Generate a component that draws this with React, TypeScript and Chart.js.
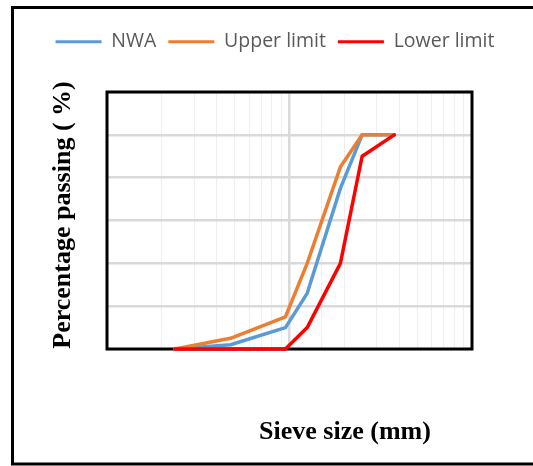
import React, { useEffect, useRef } from "react";
import { Chart, registerables } from "chart.js";

Chart.register(...registerables);

// Sieve sizes (mm) and percentage passing values
const sieveSizes = [2.36, 4.75, 9.5, 12.5, 19, 25, 37.5];
const nwaPassing = [0, 2, 10, 26, 75, 100, 100];
const upperLimit = [0, 5, 15, 40, 85, 100, 100];
const lowerLimit = [0, 0, 0, 10, 40, 90, 100];
const seriesLabels = ["NWA", "Upper limit", "Lower limit"];
const seriesColors = ["#5B9BD5", "#ED7D31", "#FF0000"];
const yTitle = "Percentage passing ( %)";
const xTitle = "Sieve size (mm)";
const xMin = 1;
const xMax = 100;
const yMin = 0;
const yMax = 120;
const yStep = 20;

export default function App() {
  const ref = useRef<HTMLCanvasElement>(null);

  useEffect(() => {
    const canvas = ref.current;
    if (!canvas) return;
    const toPts = (ys: number[]) => sieveSizes.map((x, i) => ({ x, y: ys[i] }));

    const decorPlugin = {
      id: "decor",
      afterInit(chart: any) {
        const lg = chart.legend;
        if (lg) {
          const orig = lg.fit.bind(lg);
          lg.fit = () => {
            orig();
            lg.height = 72;
          };
        }
      },
      beforeDraw(chart: any) {
        const c = chart.ctx;
        c.save();
        c.fillStyle = "#ffffff";
        c.fillRect(0, 0, chart.width, chart.height);
        c.strokeStyle = "#000000";
        c.lineWidth = 3;
        c.strokeRect(12.5, 7.5, 600, 456.5);
        c.restore();
      },
      beforeDatasetsDraw(chart: any) {
        const c = chart.ctx;
        const a = chart.chartArea;
        c.save();
        c.strokeStyle = "#000000";
        c.lineWidth = 3;
        c.strokeRect(a.left, a.top, a.right - a.left, a.bottom - a.top);
        c.restore();
      },
      afterDraw(chart: any) {
        const c = chart.ctx;
        c.save();
        c.fillStyle = "#000000";
        c.font = "bold 26px 'Liberation Serif', 'Times New Roman', serif";
        c.textAlign = "center";
        c.textBaseline = "middle";
        c.fillText(xTitle, 345, 432);
        c.translate(63, 215);
        c.rotate(-Math.PI / 2);
        c.fillText(yTitle, 0, 0);
        c.restore();
      },
    };

    const chart = new Chart(canvas, {
      type: "line",
      data: {
        datasets: [
          {
            label: seriesLabels[0],
            data: toPts(nwaPassing),
            borderColor: seriesColors[0],
            backgroundColor: seriesColors[0],
            order: 3,
          },
          {
            label: seriesLabels[1],
            data: toPts(upperLimit),
            borderColor: seriesColors[1],
            backgroundColor: seriesColors[1],
            order: 2,
          },
          {
            label: seriesLabels[2],
            data: toPts(lowerLimit),
            borderColor: seriesColors[2],
            backgroundColor: seriesColors[2],
            order: 1,
          },
        ].map((d) => ({
          ...d,
          borderWidth: 3.5,
          pointRadius: 0,
          pointHoverRadius: 0,
          tension: 0,
          fill: false,
          clip: false as any,
          borderJoinStyle: "round" as const,
          borderCapStyle: "round" as const,
        })),
      },
      options: {
        responsive: false,
        animation: false,
        events: [],
        layout: { padding: { left: 17, right: 0, top: 20, bottom: 0 } },
        plugins: {
          tooltip: { enabled: false },
          legend: {
            display: true,
            position: "top",
            align: "center",
            labels: {
              boxWidth: 46,
              boxHeight: 3,
              padding: 12,
              color: "#595959",
              font: { family: "'Open Sans', 'Noto Sans', sans-serif", size: 19.5 },
              sort: (a: any, b: any) => a.datasetIndex - b.datasetIndex,
              generateLabels: (ch: any) =>
                (Chart.defaults.plugins.legend.labels as any)
                  .generateLabels(ch)
                  .map((l: any) => ({ ...l, lineWidth: 0, fillStyle: l.strokeStyle })),
            },
          },
        },
        scales: {
          x: {
            type: "logarithmic",
            min: xMin,
            max: xMax,
            border: { display: false },
            ticks: { display: false, autoSkip: false },
            grid: {
              drawTicks: false,
              color: (ctx: any) =>
                ctx.tick && Math.abs(ctx.tick.value - 10) < 1e-6 ? "#d9d9d9" : "#efefef",
              lineWidth: (ctx: any) =>
                ctx.tick && Math.abs(ctx.tick.value - 10) < 1e-6 ? 2.5 : 1,
            },
            afterFit: (s: any) => {
              s.height = 117;
            },
          },
          y: {
            type: "linear",
            min: yMin,
            max: yMax,
            border: { display: false },
            ticks: { display: false, stepSize: yStep },
            grid: { drawTicks: false, color: "#d9d9d9", lineWidth: 2.5 },
            afterFit: (s: any) => {
              s.width = 90;
            },
          },
          y2: {
            type: "linear",
            position: "right",
            display: true,
            border: { display: false },
            ticks: { display: false },
            grid: { display: false, drawTicks: false },
            afterFit: (s: any) => {
              s.width = 61;
            },
          },
        },
      } as any,
      plugins: [decorPlugin],
    });

    return () => chart.destroy();
  }, []);

  return (
    <div style={{ position: "absolute", left: 0, top: 0, width: 533, height: 466 }}>
      <canvas ref={ref} width={533} height={466} style={{ display: "block" }} />
    </div>
  );
}
